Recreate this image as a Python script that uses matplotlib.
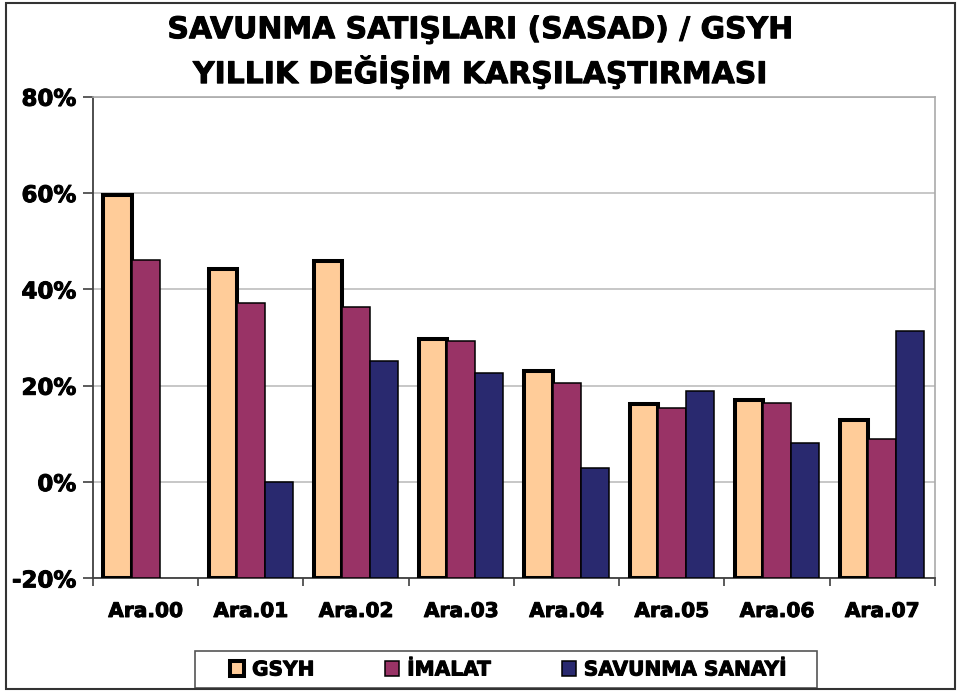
import numpy as np
import matplotlib
matplotlib.use("Agg")
import matplotlib.pyplot as plt
from matplotlib.patches import Rectangle
from matplotlib.ticker import FuncFormatter
import matplotlib.patheffects as pe

categories = ["Ara.00", "Ara.01", "Ara.02", "Ara.03", "Ara.04", "Ara.05", "Ara.06", "Ara.07"]
gsyh = [59.6, 44.3, 45.9, 29.8, 23.0, 16.1, 17.0, 12.9]
imalat = [46.2, 37.2, 36.4, 29.3, 20.6, 15.3, 16.5, 9.0]
savunma = [np.nan, 0.0, 25.2, 22.7, 2.9, 19.0, 8.2, 31.3]
series_names = ["GSYH", "İMALAT", "SAVUNMA SANAYİ"]
yticks = [-20, 0, 20, 40, 60, 80]

plt.rcParams['font.family'] = ['DejaVu Sans']
plt.rcParams['font.weight'] = 'bold'

heavy = [pe.withStroke(linewidth=0.7, foreground="black")]

fig = plt.figure(figsize=(9.61, 6.91), dpi=100)
ax = fig.add_axes([0.0968, 0.163, 0.876, 0.697])

x = np.arange(len(categories))
w = 0.267
base = -20
colors = ["#FFCC99", "#993366", "#29296F"]
edge_lw = [2.9, 1.1, 1.1]
series = [gsyh, imalat, savunma]
for i, (vals, c, lw, name) in enumerate(zip(series, colors, edge_lw, series_names)):
    v = np.array(vals, dtype=float)
    ax.bar(x + (i - 1) * w, v - base, bottom=base, width=w, color=c,
           edgecolor="black", linewidth=lw, label=name, zorder=3)

ax.set_xlim(-0.5, len(categories) - 0.5)
ax.set_ylim(-20, 80)
ax.set_yticks(yticks)
ax.yaxis.set_major_formatter(FuncFormatter(lambda v, p: f"{v:.0f}%"))
ax.grid(axis="y", color="#BDBDBD", linewidth=1.2, zorder=0)
ax.set_xticks(x)
ax.set_xticklabels(categories, fontsize=14.5, fontweight="bold")
ax.set_xticks(np.arange(-0.5, len(categories) + 0.5, 1), minor=True)
ax.tick_params(axis="x", which="major", length=0, pad=17)
ax.tick_params(axis="x", which="minor", length=6, width=1.2, color="#404040", direction="out")
ax.tick_params(axis="y", length=7, width=1.2, color="#404040", labelsize=16.5, pad=5)
for lab in ax.get_yticklabels() + ax.get_xticklabels():
    lab.set_fontweight("bold")
    lab.set_path_effects(heavy)
for side in ["top", "right"]:
    ax.spines[side].set_color("#AAAAAA")
    ax.spines[side].set_linewidth(1.2)
for side in ["left", "bottom"]:
    ax.spines[side].set_color("#404040")
    ax.spines[side].set_linewidth(1.3)

fig.text(0.5, 0.957, "SAVUNMA SATIŞLARI (SASAD) / GSYH", ha="center", va="center",
         fontsize=21.5, fontweight="bold", path_effects=heavy)
fig.text(0.5, 0.896, "YILLIK DEĞİŞİM KARŞILAŞTIRMASI", ha="center", va="center",
         fontsize=21.5, fontweight="bold", path_effects=heavy)

leg = fig.legend(loc="center", bbox_to_anchor=(508.5 / 961, 1 - 670 / 691),
                 ncol=3, frameon=False, fontsize=14.5,
                 handlelength=0.7, handleheight=0.7, handletextpad=0.4, borderaxespad=0,
                 borderpad=0.2, columnspacing=3.5)
for t in leg.get_texts():
    t.set_fontweight("bold")
    t.set_path_effects(heavy)

fig.patches.append(Rectangle((195 / 961, 1 - 688 / 691), 621.7 / 961, 37 / 691,
                             transform=fig.transFigure, fill=False,
                             edgecolor="#555555", linewidth=1.2))
fig.patches.append(Rectangle((6 / 961, 2 / 691), 949 / 961, 686 / 691, transform=fig.transFigure,
                             fill=False, edgecolor="#333333", linewidth=1.5))

fig.savefig("out.png", dpi=100)
